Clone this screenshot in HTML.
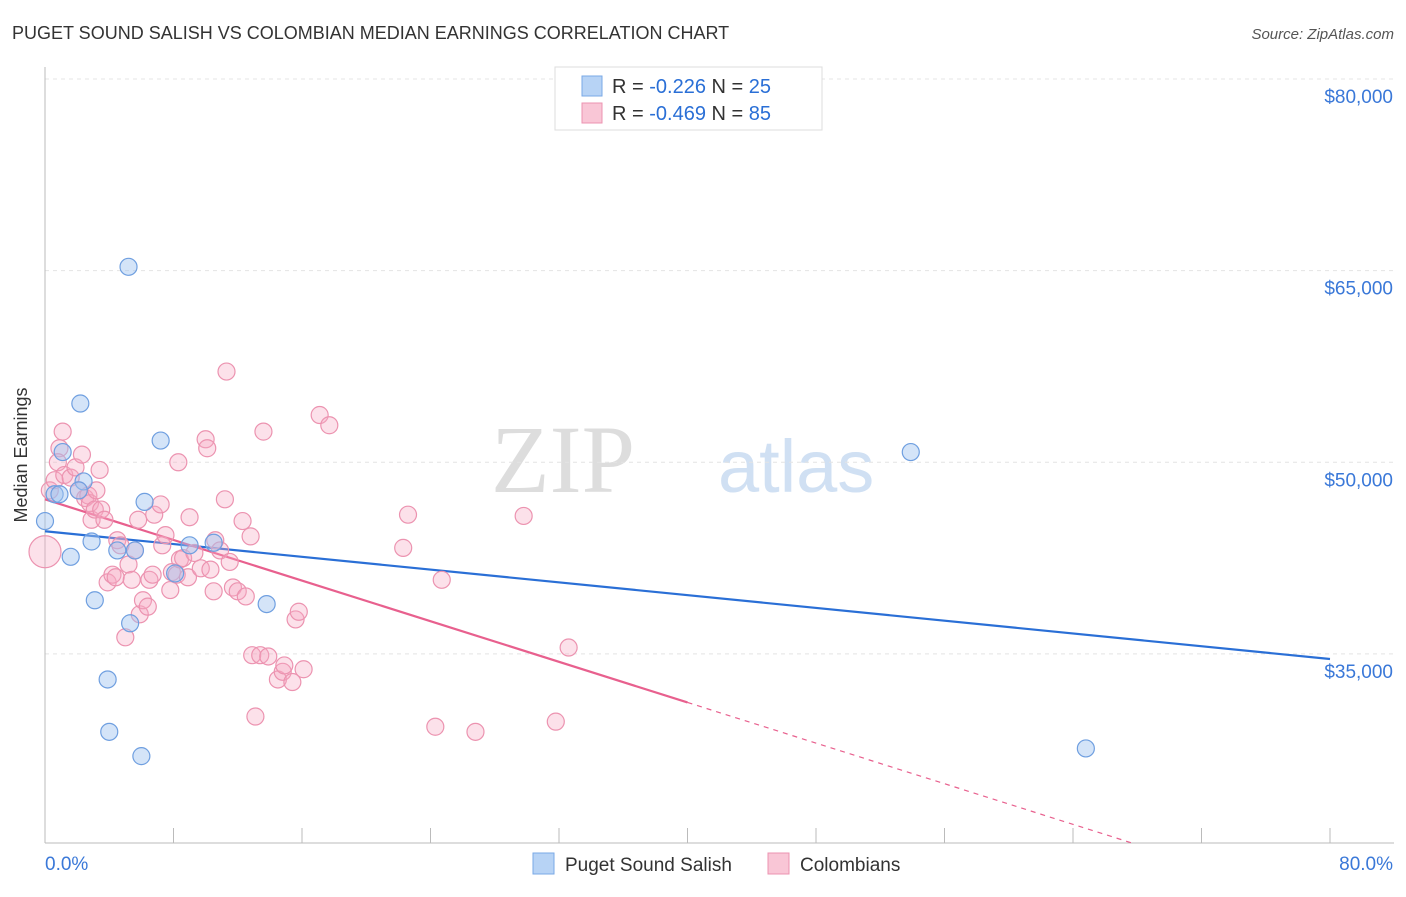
<!DOCTYPE html>
<html><head><meta charset="utf-8"><style>
body{margin:0;background:#fff;font-family:"Liberation Sans",sans-serif;}
svg text{font-family:"Liberation Sans",sans-serif;}
</style></head><body>
<svg id="chart" width="1406" height="892" xmlns="http://www.w3.org/2000/svg">
<text x="12" y="39" font-size="18" fill="#333">PUGET SOUND SALISH VS COLOMBIAN MEDIAN EARNINGS CORRELATION CHART</text>
<text x="1394" y="39" font-size="15" fill="#555" text-anchor="end" font-style="italic">Source: ZipAtlas.com</text>
<text x="635" y="492" font-size="96" fill="#ddd" text-anchor="end" font-family="Liberation Serif" style="font-family:'Liberation Serif',serif">ZIP</text>
<text x="718" y="492" font-size="74" fill="#d0e0f3">atlas</text>
<g id="grid"></g><g id="axes"></g><g id="lines"></g><g id="pts"></g>
<g>
<rect x="555" y="67" width="267" height="63" fill="#fff" stroke="#ddd"/>
<rect x="582" y="76" width="20" height="20" fill="#b7d3f5" stroke="#7aa8e6"/>
<text x="612" y="93" font-size="20" fill="#333">R = <tspan fill="#2a6fd6">-0.226</tspan>   N = <tspan fill="#2a6fd6">25</tspan></text>
<rect x="582" y="103" width="20" height="20" fill="#f9c6d6" stroke="#ec93b0"/>
<text x="612" y="120" font-size="20" fill="#333">R = <tspan fill="#2a6fd6">-0.469</tspan>   N = <tspan fill="#2a6fd6">85</tspan></text>
</g>
<g>
<rect x="533" y="853" width="21" height="21" fill="#b7d3f5" stroke="#7aa8e6"/>
<text x="565" y="871" font-size="19" fill="#333">Puget Sound Salish</text>
<rect x="768" y="853" width="21" height="21" fill="#f9c6d6" stroke="#ec93b0"/>
<text x="800" y="871" font-size="19" fill="#333">Colombians</text>
</g>
<text x="27" y="455" font-size="18" fill="#333" text-anchor="middle" transform="rotate(-90 27 455)">Median Earnings</text>
</svg>
<script>
const yTicks=[80000,65000,50000,35000];
const yTickLabels=["$80,000","$65,000","$50,000","$35,000"];
const xTickLabels=["0.0%","80.0%"];
const blueX=[0,0.6,1.1,2.2,2.4,2.1,1.6,2.9,3.1,4.5,3.9,4.0,5.2,5.3,5.6,6.0,6.2,7.2,8.1,9.0,10.5,13.8,53.9,64.8,0.9];
const blueY=[45.4,47.5,50.8,54.6,48.5,47.8,42.6,43.8,39.2,43.1,33.0,28.9,65.3,37.4,43.1,27.0,46.9,51.7,41.3,43.5,43.7,38.9,50.8,27.6,47.5];
const pinkX=[0,0.3,0.6,0.9,1.1,0.8,1.2,1.6,1.9,2.1,2.3,2.5,2.7,2.8,2.9,3.1,3.2,3.4,3.5,3.7,3.9,4.2,4.4,4.5,4.7,5.0,5.2,5.4,5.6,5.8,5.9,6.1,6.4,6.5,6.7,6.8,7.2,7.3,7.5,7.8,7.9,8.2,8.3,8.4,8.6,8.9,9.0,9.3,9.7,10.0,10.1,10.3,10.5,10.6,10.9,11.2,11.3,11.5,11.7,12.0,12.3,12.5,12.8,12.9,13.1,13.4,13.6,13.9,14.5,14.8,14.9,15.4,15.6,15.8,16.1,17.1,17.7,22.3,22.6,24.3,24.7,26.8,29.8,31.8,32.6];
const pinkY=[43.0,47.8,48.6,51.1,52.4,50.0,49.0,48.8,49.6,47.8,50.6,47.2,47.4,46.8,45.5,46.3,47.8,49.4,46.3,45.5,40.6,41.2,41.0,43.9,43.5,36.3,42.0,40.8,43.1,45.5,38.1,39.2,38.7,40.8,41.2,45.9,46.7,43.5,44.3,40.0,41.4,41.2,50.0,42.4,42.5,41.0,45.7,42.9,41.7,51.8,51.1,41.6,39.9,43.9,43.1,47.1,57.1,42.2,40.2,39.9,45.4,39.5,44.2,34.9,30.1,34.9,52.4,34.8,33.0,33.6,34.1,32.8,37.7,38.3,33.8,53.7,52.9,43.3,45.9,29.3,40.8,28.9,45.8,29.7,35.5];
const blueTrend=[44.6,34.6];
const pinkTrend=[47.1,31.2]; // at x=0 and x=40
const NS="http://www.w3.org/2000/svg";
const X0=45,X1=1330,YMIN=20.2,YMAX=80.94,PT=67,PB=843;
const sx=v=>X0+(v/80)*(X1-X0);
const sy=v=>PB-(v-YMIN)/(YMAX-YMIN)*(PB-PT);
function mk(p,t,a){const e=document.createElementNS(NS,t);for(const k in a)e.setAttribute(k,a[k]);document.getElementById(p).appendChild(e);return e;}
yTicks.forEach((t,i)=>{
 const g=mk('grid','line',{x1:X0,x2:1394,y1:sy(t/1000),y2:sy(t/1000),stroke:'#e4e4e4','stroke-dasharray':'4,4'});
 
 
 const l=mk('axes','text',{x:1393,y:sy(t/1000)+24,'font-size':19,fill:'#3a78d8','text-anchor':'end'});
 l.textContent=yTickLabels[i];
 
 
});
const ax=mk('axes','line',{x1:X0,x2:X0,y1:PT,y2:PB,stroke:'#bbb'});


const bx=mk('axes','line',{x1:X0,x2:1394,y1:PB,y2:PB,stroke:'#bbb'});


for(let i=0;i<=10;i++){const t=mk('axes','line',{x1:sx(i*8),x2:sx(i*8),y1:828,y2:PB,stroke:'#bbb'});
 
 }
const xl0=mk('axes','text',{x:45,y:870,'font-size':19,fill:'#3a78d8'});xl0.textContent=xTickLabels[0];


const xl1=mk('axes','text',{x:1393,y:870,'font-size':19,fill:'#3a78d8','text-anchor':'end'});xl1.textContent=xTickLabels[1];


pinkX.forEach((x,i)=>{const c=mk('pts','circle',{cx:sx(x),cy:sy(pinkY[i]),r:i===0?16:8.5,fill:'rgba(245,170,196,0.35)',stroke:'#ec93b0','stroke-width':1.2});
 
 });
blueX.forEach((x,i)=>{const c=mk('pts','circle',{cx:sx(x),cy:sy(blueY[i]),r:8.5,fill:'rgba(160,196,240,0.45)',stroke:'#6f9fe0','stroke-width':1.2});
 
 });
const bl=mk('lines','line',{x1:sx(0),y1:sy(blueTrend[0]),x2:sx(80),y2:sy(blueTrend[1]),stroke:'#2a6fd6','stroke-width':2.2});


const slope=(pinkTrend[1]-pinkTrend[0])/40;
const pl=mk('lines','line',{x1:sx(0),y1:sy(pinkTrend[0]),x2:sx(40),y2:sy(pinkTrend[1]),stroke:'#e8608e','stroke-width':2.2});


const xEnd=(YMIN-pinkTrend[0])/slope;
const pd=mk('lines','line',{x1:sx(40),y1:sy(pinkTrend[1]),x2:sx(xEnd),y2:sy(YMIN),stroke:'#e8608e','stroke-width':1.2,'stroke-dasharray':'5,5'});


</script>
</body></html>
